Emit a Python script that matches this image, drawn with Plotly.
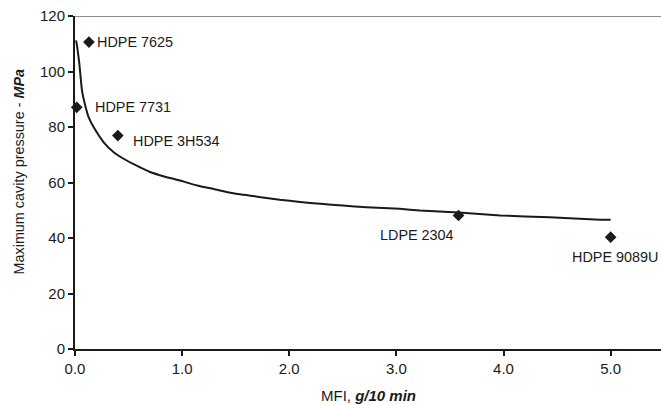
import plotly.graph_objects as go

# Measured grades: melt flow index vs. maximum cavity pressure
grades = ["HDPE 7625", "HDPE 7731", "HDPE 3H534", "LDPE 2304", "HDPE 9089U"]
mfi = [0.13, 0.016, 0.40, 3.58, 5.0]
pressure = [110.6, 87.1, 76.9, 48.1, 40.3]

# Trend curve through the measured data
trend_mfi = [0.01, 0.02, 0.04, 0.065, 0.096, 0.128, 0.175, 0.268, 0.361, 0.47,
             0.58, 0.70, 0.84, 0.98, 1.14, 1.30, 1.48, 1.70, 1.91, 2.10, 2.29,
             2.50, 2.72, 3.03, 3.22, 3.58, 3.97, 4.43, 4.90, 5.0]
trend_p = [111.2, 109.0, 103.0, 93.2, 87.7, 83.5, 79.9, 74.5, 70.9, 68.2,
           66.0, 63.8, 62.1, 60.7, 58.9, 57.6, 56.1, 54.9, 53.8, 53.0, 52.3,
           51.7, 51.1, 50.5, 49.9, 49.2, 48.1, 47.5, 46.6, 46.6]

x_ticks = [0, 1, 2, 3, 4, 5]
x_tick_text = ["0.0", "1.0", "2.0", "3.0", "4.0", "5.0"]
y_ticks = [0, 20, 40, 60, 80, 100, 120]

# label placement: (xanchor, yanchor, xshift, yshift)
label_pos = {
    "HDPE 7625": ("left", "middle", 6, 0),
    "HDPE 7731": ("left", "middle", 16, 0),
    "HDPE 3H534": ("left", "middle", 13, -5),
    "LDPE 2304": ("right", "middle", -3, -19),
    "HDPE 9089U": ("center", "middle", 4, -20),
}

FONT = "Liberation Sans, Arial, sans-serif"
INK = "#1a1a1a"

fig = go.Figure()
fig.add_trace(go.Scatter(
    x=trend_mfi, y=trend_p, mode="lines",
    line=dict(color=INK, width=2, shape="spline", smoothing=0.4),
    hoverinfo="skip", showlegend=False,
))
fig.add_trace(go.Scatter(
    x=mfi, y=pressure, mode="markers",
    marker=dict(symbol="diamond", size=9, color=INK),
    cliponaxis=False, showlegend=False,
))

annotations = []
for name, xv, yv in zip(grades, mfi, pressure):
    xa, ya, dx, dy = label_pos[name]
    annotations.append(dict(
        x=xv, y=yv, xref="x", yref="y", text=name, showarrow=False,
        xanchor=xa, yanchor=ya, xshift=dx, yshift=dy,
        font=dict(family=FONT, size=14.4, color=INK),
    ))

annotations.append(dict(
    x=0.5, y=-0.14, xref="paper", yref="paper", yanchor="middle",
    text="MFI, <b><i>g/10 min</i></b>", showarrow=False,
    font=dict(family=FONT, size=15, color=INK),
))
annotations.append(dict(
    x=0, y=0.5, xref="paper", yref="paper", xanchor="center", yanchor="middle",
    text="Maximum cavity pressure - <b><i>MPa</i></b>", showarrow=False,
    textangle=-90, xshift=-57, yshift=11,
    font=dict(family=FONT, size=14.4, color=INK),
))

fig.update_layout(
    width=661, height=405,
    margin=dict(l=75, r=0, t=16, b=56),
    paper_bgcolor="white", plot_bgcolor="white",
    font=dict(family=FONT, size=15, color=INK),
    annotations=annotations,
    shapes=[dict(type="line", xref="paper", yref="y", x0=0, x1=1, y0=120, y1=120,
                 line=dict(color="#8c8c8c", width=2))],
    xaxis=dict(
        range=[0, 5.47], tickvals=x_ticks, ticktext=x_tick_text,
        showline=True, linecolor=INK, linewidth=1.5,
        ticks="outside", ticklen=5, tickwidth=1.5, tickcolor=INK,
        showgrid=False, zeroline=False,
        tickfont=dict(family=FONT, size=15, color=INK),
    ),
    yaxis=dict(
        range=[0, 120], tickvals=y_ticks,
        showline=True, linecolor=INK, linewidth=2,
        ticks="outside", ticklen=5, tickwidth=1.5, tickcolor=INK,
        showgrid=False, zeroline=False,
        tickfont=dict(family=FONT, size=15, color=INK),
    ),
)

fig.write_html("out.html")
